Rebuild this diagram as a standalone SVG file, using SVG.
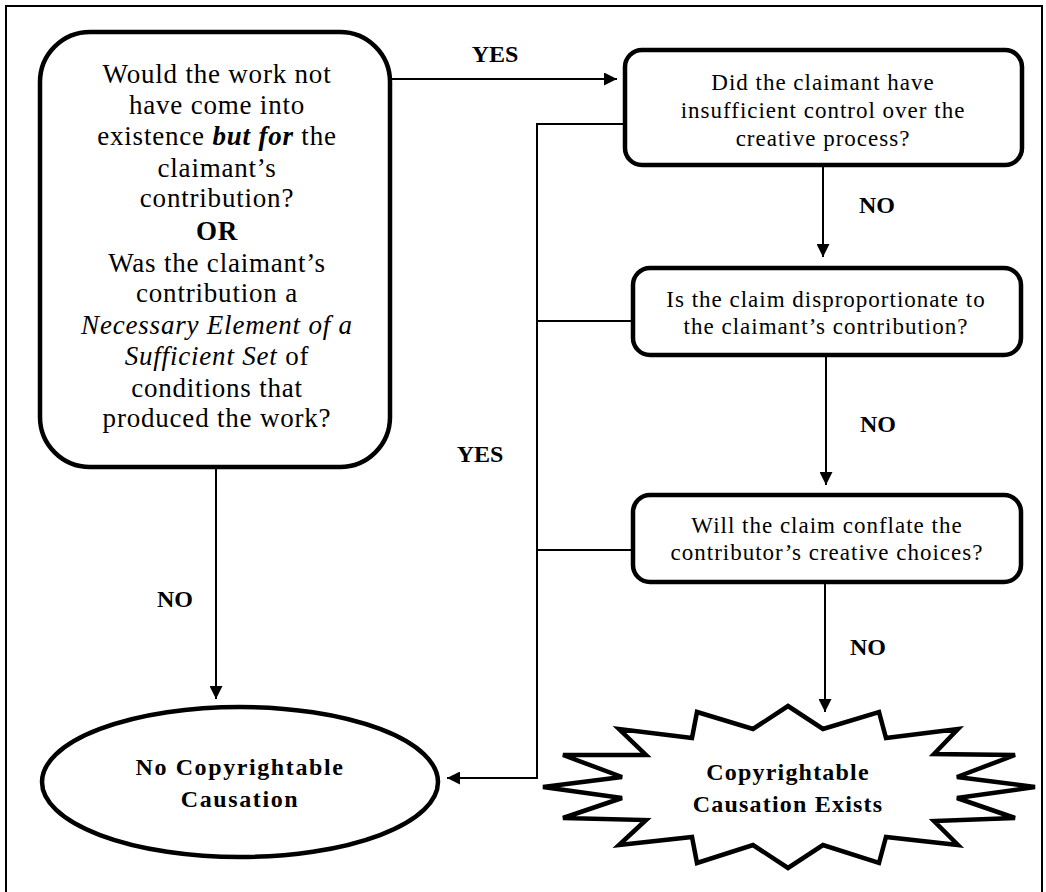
<svg xmlns="http://www.w3.org/2000/svg" width="1046" height="892" viewBox="0 0 1046 892">
<defs>
<marker id="ah" viewBox="0 0 10 10" refX="10" refY="5" markerWidth="13" markerHeight="13" markerUnits="userSpaceOnUse" orient="auto">
<path d="M0,0 L10,5 L0,10 Z" fill="#000"/>
</marker>
<style>
.node{fill:#fff;stroke:#000;stroke-width:4.5}
.conn{fill:none;stroke:#000;stroke-width:2}
.t{font-family:"Liberation Serif","Times New Roman","DejaVu Serif",serif;fill:#000;text-anchor:middle}
.big{font-size:27px;letter-spacing:0.8px}
.q{font-size:23px;letter-spacing:1px}
.lab{font-size:24px;font-weight:bold}
.end{font-size:24px;font-weight:bold;letter-spacing:1.2px}
.endl{letter-spacing:1.6px}
</style>
</defs>
<rect width="1046" height="892" fill="#fff"/>
<rect x="6" y="6" width="1036" height="900" fill="none" stroke="#000" stroke-width="2"/>

<g id="connectors">
<line class="conn" x1="392" y1="79" x2="617" y2="79" marker-end="url(#ah)"/>
<line class="conn" x1="823" y1="166" x2="823" y2="257" marker-end="url(#ah)"/>
<line class="conn" x1="826" y1="356" x2="826" y2="485" marker-end="url(#ah)"/>
<line class="conn" x1="825" y1="583" x2="825" y2="712" marker-end="url(#ah)"/>
<line class="conn" x1="216" y1="468" x2="216" y2="699" marker-end="url(#ah)"/>
<polyline class="conn" points="625,124 537,124 537,778 447,778" marker-end="url(#ah)"/>
<line class="conn" x1="537" y1="321" x2="633" y2="321"/>
<line class="conn" x1="537" y1="550" x2="633" y2="550"/>
<text class="t lab" x="495" y="62">YES</text>
<text class="t lab" x="877" y="213">NO</text>
<text class="t lab" x="878" y="432">NO</text>
<text class="t lab" x="868" y="655">NO</text>
<text class="t lab" x="480" y="462">YES</text>
<text class="t lab" x="175" y="607">NO</text>
</g>

<g id="q-butfor">
<rect class="node" x="40" y="32" width="350" height="435" rx="50" ry="50"/>
<text class="t big" x="217" y="83">Would the work not</text>
<text class="t big" x="217" y="114">have come into</text>
<text class="t big" x="217" y="145">existence <tspan font-weight="bold" font-style="italic">but for</tspan> the</text>
<text class="t big" x="217" y="177">claimant’s</text>
<text class="t big" x="217" y="207">contribution?</text>
<text class="t big" x="217" y="240" font-weight="bold">OR</text>
<text class="t big" x="217" y="272">Was the claimant’s</text>
<text class="t big" x="217" y="302">contribution a</text>
<text class="t big" x="217" y="334" font-style="italic">Necessary Element of a</text>
<text class="t big" x="217" y="365"><tspan font-style="italic">Sufficient Set</tspan> of</text>
<text class="t big" x="217" y="397">conditions that</text>
<text class="t big" x="217" y="427">produced the work?</text>
</g>

<g id="q-control">
<rect class="node" x="625" y="50" width="397" height="115" rx="17" ry="17"/>
<text class="t q" x="823" y="90">Did the claimant have</text>
<text class="t q" x="823" y="118">insufficient control over the</text>
<text class="t q" x="823" y="146">creative process?</text>
</g>

<g id="q-disproportionate">
<rect class="node" x="633" y="268" width="388" height="87" rx="17" ry="17"/>
<text class="t q" x="826" y="307">Is the claim disproportionate to</text>
<text class="t q" x="826" y="334">the claimant’s contribution?</text>
</g>

<g id="q-conflate">
<rect class="node" x="633" y="495" width="388" height="87" rx="17" ry="17"/>
<text class="t q" x="827" y="533">Will the claim conflate the</text>
<text class="t q" x="827" y="560">contributor’s creative choices?</text>
</g>

<g id="no-causation">
<ellipse class="node" cx="240" cy="782" rx="198" ry="75"/>
<text class="t end endl" x="240" y="775">No Copyrightable</text>
<text class="t end endl" x="240" y="807">Causation</text>
</g>

<g id="causation-exists">
<polygon class="node" points="788,706 823,729 879,712 886,738 958,729 934,754 1015,755 957,777 1035,787 957,798 1015,818 934,821 958,845 886,837 879,863 823,845 788,868 753,845 697,863 692,837 619,845 646,820 563,818 622,798 543,787 622,777 563,755 646,755 619,729 692,738 697,712 753,729"/>
<text class="t end" x="788" y="780">Copyrightable</text>
<text class="t end" x="788" y="812">Causation Exists</text>
</g>
</svg>
